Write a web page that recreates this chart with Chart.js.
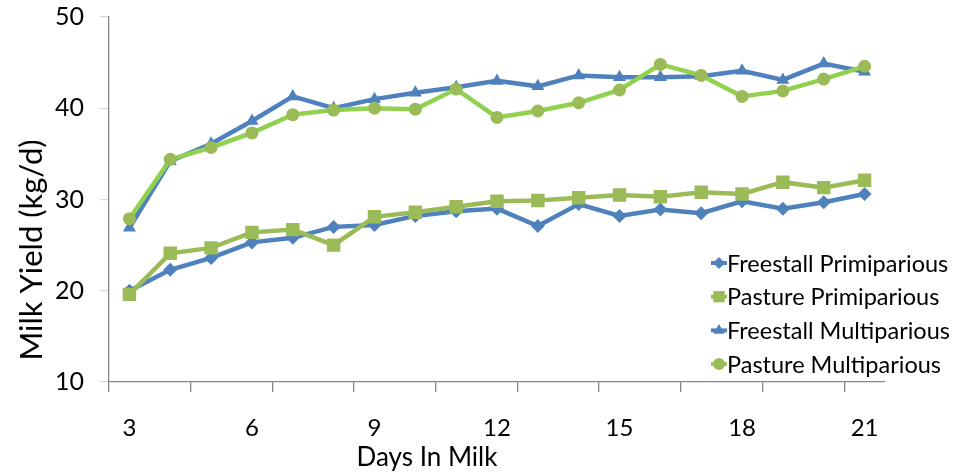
<!DOCTYPE html>
<html>
<head>
<title>Milk yield</title>
<script src="https://cdn.jsdelivr.net/npm/chart.js"></script>
<style>
	html, body { margin: 0; padding: 0; background: #ffffff; }
	#wrap { width: 966px; height: 472px; position: relative; }
</style>
</head>
<body>
<div id="wrap"><canvas id="milkChart"></canvas></div>
<script>
var days = [3, 4, 5, 6, 7, 8, 9, 10, 11, 12, 13, 14, 15, 16, 17, 18, 19, 20, 21];
var freestallPrimi = [20.0, 22.3, 23.6, 25.3, 25.8, 27.0, 27.2, 28.2, 28.7, 29.0, 27.1, 29.5, 28.2, 28.9, 28.5, 29.8, 29.0, 29.7, 30.6];
var pasturePrimi   = [19.6, 24.1, 24.7, 26.4, 26.7, 25.0, 28.1, 28.6, 29.2, 29.8, 29.9, 30.2, 30.5, 30.3, 30.8, 30.6, 31.9, 31.3, 32.1];
var freestallMulti = [26.9, 34.2, 36.1, 38.6, 41.3, 40.0, 41.0, 41.7, 42.3, 43.0, 42.4, 43.6, 43.4, 43.4, 43.5, 44.1, 43.1, 44.9, 44.0];
var pastureMulti   = [27.9, 34.4, 35.7, 37.3, 39.3, 39.8, 40.0, 39.9, 42.1, 39.0, 39.7, 40.6, 42.0, 44.8, 43.6, 41.3, 41.9, 43.2, 44.6];
var seriesNames = ['Freestall Primiparious', 'Pasture Primiparious', 'Freestall Multiparious', 'Pasture Multiparious'];
var yTicks = [10, 20, 30, 40, 50];

var blue = '#4f81bd';
var green = '#9bbb59';
var brightGreen = '#92d050';
var axisGrey = '#868686';
var fontName = 'Lato, "Open Sans", sans-serif';

// legend sits inside the plot, like the spreadsheet one
var sideLegend = {
	id: 'sideLegend',
	afterDraw: function(chart) {
		var ctx = chart.ctx;
		ctx.save();
		chart.data.datasets.forEach(function(ds, i) {
			var y = 263 + i * 33.7;
			ctx.strokeStyle = ds.borderColor;
			ctx.lineWidth = 4;
			ctx.beginPath();
			ctx.moveTo(711, y);
			ctx.lineTo(727, y);
			ctx.stroke();
			ctx.fillStyle = ds.pointBackgroundColor;
			Chart.helpers.drawPoint(ctx, {pointStyle: ds.pointStyle, radius: ds.legendRadius, borderWidth: 0, rotation: 0}, 719, y);
			ctx.fillStyle = '#000000';
			ctx.font = '23.5px ' + fontName;
			ctx.textAlign = 'left';
			ctx.textBaseline = 'middle';
			ctx.fillText(ds.label, 727, y + 1);
		});
		// axis titles, placed where the original has them
		ctx.textAlign = 'center';
		ctx.textBaseline = 'middle';
		ctx.font = '26px ' + fontName;
		ctx.fillText('Days In Milk', 427, 458);
		ctx.translate(32, 250);
		ctx.rotate(-Math.PI / 2);
		ctx.font = '31px ' + fontName;
		ctx.fillText('Milk Yield (kg/d)', 0, 0);
		ctx.restore();
	}
};

var ctx = document.getElementById('milkChart').getContext('2d');
var chart = new Chart(ctx, {
	type: 'line',
	data: {
		labels: days,
		datasets: [
			{ label: seriesNames[0], data: freestallPrimi, borderColor: blue, pointBackgroundColor: blue, pointStyle: 'rectRot', pointRadius: 7, legendRadius: 6, order: 4 },
			{ label: seriesNames[1], data: pasturePrimi, borderColor: green, pointBackgroundColor: green, pointStyle: 'rect', pointRadius: 9.5, legendRadius: 8, order: 3 },
			{ label: seriesNames[2], data: freestallMulti, borderColor: blue, pointBackgroundColor: blue, pointStyle: 'triangle', pointRadius: 7.5, legendRadius: 6.5, order: 2 },
			{ label: seriesNames[3], data: pastureMulti, borderColor: brightGreen, pointBackgroundColor: green, pointStyle: 'circle', pointRadius: 6.5, legendRadius: 6, order: 1 }
		].map(function(d) {
			d.borderWidth = 4.5;
			d.pointBorderWidth = 0;
			d.pointHoverRadius = d.pointRadius;
			d.tension = 0;
			d.fill = false;
			return d;
		})
	},
	options: {
		responsive: true,
		maintainAspectRatio: false,
		animation: false,
		events: [],
		layout: { padding: { left: 0, top: 17, right: 81, bottom: 0 } },
		plugins: {
			legend: { display: false },
			tooltip: { enabled: false }
		},
		scales: {
			x: {
				type: 'category',
				offset: true,
				afterFit: function(scale) { scale.height = 90; },
				border: { display: true, color: axisGrey, width: 1.3 },
				grid: {
					display: true,
					offset: true,
					drawOnChartArea: false,
					drawTicks: true,
					tickLength: 10,
					lineWidth: 1.3,
					color: function(c) { return (c.index !== undefined && c.index % 2 === 0) ? axisGrey : 'rgba(0,0,0,0)'; }
				},
				ticks: {
					autoSkip: false,
					maxRotation: 0,
					padding: 22,
					color: '#000000',
					font: { family: fontName, size: 24 },
					callback: function(v, i) { var d = days[i]; return d % 3 === 0 ? String(d) : ''; }
				}
			},
			y: {
				min: yTicks[0],
				max: yTicks[yTicks.length - 1],
				afterFit: function(scale) {
					scale.width = 109;
					scale.paddingTop = 0;
					scale.paddingBottom = 0;
				},
				afterBuildTicks: function(scale) { scale.ticks = yTicks.map(function(v) { return { value: v }; }); },
				border: { display: true, color: axisGrey, width: 1.3 },
				grid: {
					display: true,
					drawOnChartArea: false,
					drawTicks: true,
					tickLength: 9,
					lineWidth: 1.3,
					color: '#d9d9d9'
				},
				ticks: {
					padding: 16,
					color: '#000000',
					font: { family: fontName, size: 25 }
				}
			}
		}
	},
	plugins: [sideLegend]
});
</script>
</body>
</html>
